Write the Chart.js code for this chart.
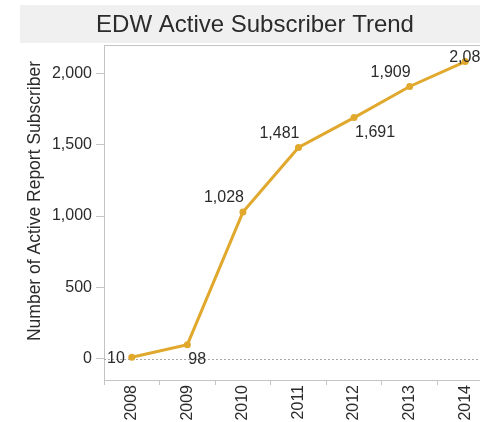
<!DOCTYPE html>
<html><head><meta charset="utf-8">
<script src="https://cdn.jsdelivr.net/npm/chart.js@4.4.1/dist/chart.umd.min.js"></script>
<style>html,body{margin:0;padding:0;background:#fff;overflow:hidden;width:480px;height:422px}canvas{display:block}</style>
</head><body>
<canvas id="c" width="497" height="422"></canvas>
<script>
const years = ['2008', '2009', '2010', '2011', '2012', '2013', '2014'];
const subscribers = [10, 98, 1028, 1481, 1691, 1909, 2084];
const yTicks = [0, 500, 1000, 1500, 2000];
const chartTitle = 'EDW Active Subscriber Trend';
const yTitle = 'Number of Active Report Subscriber';
const labelSpots = ['left', 'below-right', 'above-left', 'above-left', 'below-right', 'above-left', 'above'];

const FONT = '"Liberation Sans", Arial, Helvetica, sans-serif';
const GOLD = 'rgb(224,168,44)';
const TEXT = '#2b2b2b';
const AXIS = '#c4c4c4';

const fmt = v => Number(v).toLocaleString('en-US');

const decor = {
  id: 'decor',
  beforeDraw(chart) {
    const ctx = chart.ctx;
    ctx.save();
    ctx.fillStyle = '#fff';
    ctx.fillRect(0, 0, chart.width, chart.height);
    ctx.fillStyle = '#f0f0f0';
    ctx.fillRect(20, 5, chart.width - 20, 38);
    ctx.fillStyle = TEXT;
    ctx.font = '24px ' + FONT;
    ctx.textAlign = 'center';
    ctx.textBaseline = 'middle';
    ctx.fillText(chartTitle, 255, 25);
    ctx.translate(35, 201);
    ctx.rotate(-Math.PI / 2);
    ctx.font = '17.5px ' + FONT;
    ctx.fillText(yTitle, 0, 0);
    ctx.restore();
  },
  beforeDatasetsDraw(chart) {
    const ctx = chart.ctx, a = chart.chartArea, y = chart.scales.y;
    ctx.save();
    ctx.strokeStyle = AXIS;
    ctx.lineWidth = 1;
    ctx.beginPath();
    ctx.moveTo(a.left, a.top + 0.5);
    ctx.lineTo(a.right, a.top + 0.5);
    ctx.stroke();
    const y0 = Math.round(y.getPixelForValue(0)) + 0.5;
    ctx.strokeStyle = '#a8a8a8';
    ctx.setLineDash([2, 2]);
    ctx.beginPath();
    ctx.moveTo(a.left, y0);
    ctx.lineTo(a.right, y0);
    ctx.stroke();
    ctx.restore();
  },
  afterDatasetsDraw(chart) {
    const ctx = chart.ctx;
    const meta = chart.getDatasetMeta(0);
    ctx.save();
    ctx.fillStyle = TEXT;
    ctx.font = '16px ' + FONT;
    ctx.textBaseline = 'middle';
    meta.data.forEach((pt, i) => {
      const txt = fmt(subscribers[i]);
      let x = pt.x, y = pt.y, align = 'center';
      switch (labelSpots[i]) {
        case 'left': align = 'right'; x -= 7; y += 1; break;
        case 'below-right': align = 'left'; x += 1; y += 15; break;
        case 'above-left': align = 'right'; x += 1; y -= 14; break;
        case 'above': align = 'center'; x += 4; y -= 4; break;
      }
      ctx.textAlign = align;
      ctx.fillText(txt, x, y);
    });
    ctx.restore();
  }
};

new Chart(document.getElementById('c'), {
  type: 'line',
  data: {
    labels: years,
    datasets: [{
      data: subscribers,
      borderColor: GOLD,
      backgroundColor: GOLD,
      borderWidth: 3,
      pointRadius: 3.5,
      pointBorderWidth: 0,
      pointBackgroundColor: GOLD,
      tension: 0,
      clip: false
    }]
  },
  options: {
    responsive: false,
    animation: false,
    devicePixelRatio: 1,
    layout: { padding: { top: 45, left: 0, right: 0, bottom: 0 } },
    plugins: { legend: { display: false }, tooltip: { enabled: false }, title: { display: false } },
    scales: {
      x: {
        type: 'category',
        offset: true,
        grid: { offset: true, drawOnChartArea: false, tickLength: 5, tickColor: AXIS },
        border: { color: AXIS },
        ticks: { minRotation: 90, maxRotation: 90, padding: 0, color: TEXT, font: { family: FONT, size: 16 } },
        afterFit: s => { s.height = 42; s.paddingLeft = 0; s.paddingRight = 0; }
      },
      y: {
        min: -150,
        max: 2200,
        afterBuildTicks: s => { s.ticks = yTicks.map(v => ({ value: v })); },
        grid: { drawOnChartArea: false, tickLength: 8, tickColor: AXIS },
        border: { color: AXIS },
        ticks: { padding: 4, color: TEXT, font: { family: FONT, size: 16 }, callback: v => fmt(v) },
        title: { display: false },
        afterFit: s => { s.width = 104; s.paddingTop = 0; s.paddingBottom = 0; }
      }
    }
  },
  plugins: [decor]
});
</script>
</body></html>
